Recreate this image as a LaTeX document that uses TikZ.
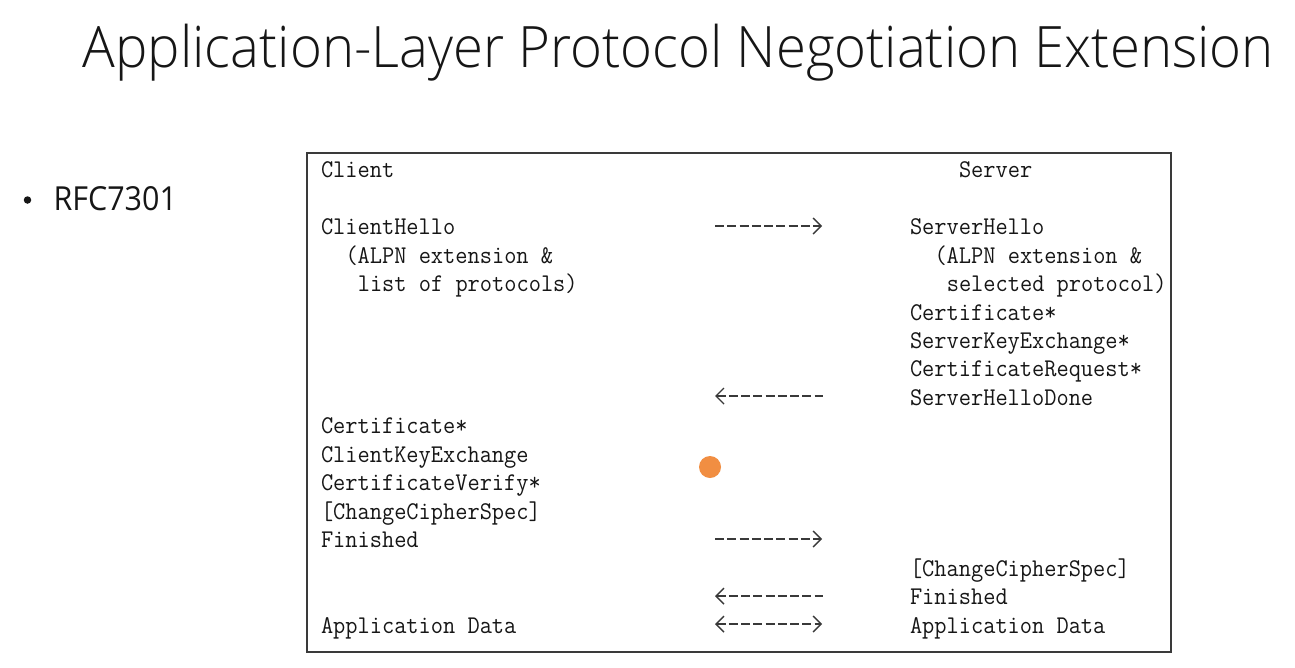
\documentclass[tikz,border=0pt]{standalone}
\usepackage{fontspec}
\usepackage{graphicx}
\newfontfamily\slidefont{Open Sans}
\newfontfamily\slidelight{Open Sans}[UprightFont={* Light}]
\usetikzlibrary{arrows.meta}
\definecolor{ink}{HTML}{161616}
\definecolor{boxline}{HTML}{3A3A3A}
\definecolor{cursordot}{HTML}{F0822E}
\newcommand\mtxt[1]{\scalebox{0.93}[1]{#1}}
\tikzset{
  mono/.style={anchor=base west, inner sep=0pt, outer sep=0pt, text=ink,
    font=\ttfamily\fontsize{25.5}{28}\selectfont},
  msg/.style={draw=ink!85, line width=1.8pt, dash pattern=on 9pt off 3.25pt},
  chev/.tip={Straight Barb[length=8pt, width=16pt, line width=1.4pt]}
}
\begin{document}
\begin{tikzpicture}[x=1pt, y=-1pt]
\useasboundingbox (0,0) rectangle (1295,667);
\fill[white] (0,0) rectangle (1295,667);

% title and bullet
\node[anchor=base west, inner sep=0pt, text=ink] (title) at (82.5,67)
  {\resizebox{1191pt}{43.4pt}{\slidelight\fontsize{40}{48}\selectfont Application-Layer Protocol Negotiation Extension}};
\node[circle, fill=ink, minimum size=7.5pt, inner sep=0pt] (bullet) at (27.5,200) {};
\node[anchor=base west, inner sep=0pt, text=ink] (rfc) at (53.3,210.7)
  {\resizebox{123.4pt}{24pt}{\slidefont\fontsize{30}{36}\selectfont RFC7301}};

% frame
\node[draw=boxline, line width=2pt, minimum width=864pt, minimum height=498.5pt,
  inner sep=0pt, anchor=north west] (frame) at (306,152) {};

% left column (client)
\node[mono] (client) at (321,177.5) {\mtxt{Client}};
\node[mono] (chello) at (321,234.5) {\mtxt{ClientHello}};
\node[mono] (calpn)  at (345.5,263.0) {\mtxt{(ALPN extension \&}};
\node[mono] (clist)  at (357.8,291.5) {\mtxt{list of protocols)}};
\node[mono] (ccert)  at (321,433.9) {\mtxt{Certificate*}};
\node[mono] (ckex)   at (321,462.4) {\mtxt{ClientKeyExchange}};
\node[mono] (cverify) at (321,490.9) {\mtxt{CertificateVerify*}};
\node[mono] (cccs)   at (321,519.4) {\mtxt{[ChangeCipherSpec]}};
\node[mono] (cfin)   at (321,547.9) {\mtxt{Finished}};
\node[mono] (cdata)  at (321,633.3) {\mtxt{Application Data}};

% right column (server)
\node[mono] (server) at (959,177.5) {\mtxt{Server}};
\node[mono] (shello) at (910,234.5) {\mtxt{ServerHello}};
\node[mono] (salpn)  at (934.5,263.0) {\mtxt{(ALPN extension \&}};
\node[mono] (ssel)   at (946.8,291.5) {\mtxt{selected protocol)}};
\node[mono] (scert)  at (910,320.0) {\mtxt{Certificate*}};
\node[mono] (skex)   at (910,348.4) {\mtxt{ServerKeyExchange*}};
\node[mono] (sreq)   at (910,376.9) {\mtxt{CertificateRequest*}};
\node[mono] (sdone)  at (910,405.4) {\mtxt{ServerHelloDone}};
\node[mono] (sccs)   at (910,576.4) {\mtxt{[ChangeCipherSpec]}};
\node[mono] (sfin)   at (910,604.9) {\mtxt{Finished}};
\node[mono] (sdata)  at (910,633.3) {\mtxt{Application Data}};

% message arrows
\coordinate (a1l) at (715,226); \coordinate (a1r) at (822,226);
\coordinate (a2l) at (715,396); \coordinate (a2r) at (823,396);
\coordinate (a3l) at (715,539); \coordinate (a3r) at (822,539);
\coordinate (a4l) at (715,596); \coordinate (a4r) at (823,596);
\coordinate (a5l) at (715,624); \coordinate (a5r) at (822,624);
\draw[msg, -chev] (a1l) -- (a1r);
\draw[msg, chev-] (a2l) -- (a2r);
\draw[msg, -chev] (a3l) -- (a3r);
\draw[msg, chev-] (a4l) -- (a4r);
\draw[msg, chev-chev] (a5l) -- (a5r);

% pointer highlight
\node[circle, fill=cursordot, fill opacity=0.9, minimum size=22pt, inner sep=0pt] (pointer) at (710,467) {};
\end{tikzpicture}
\end{document}
